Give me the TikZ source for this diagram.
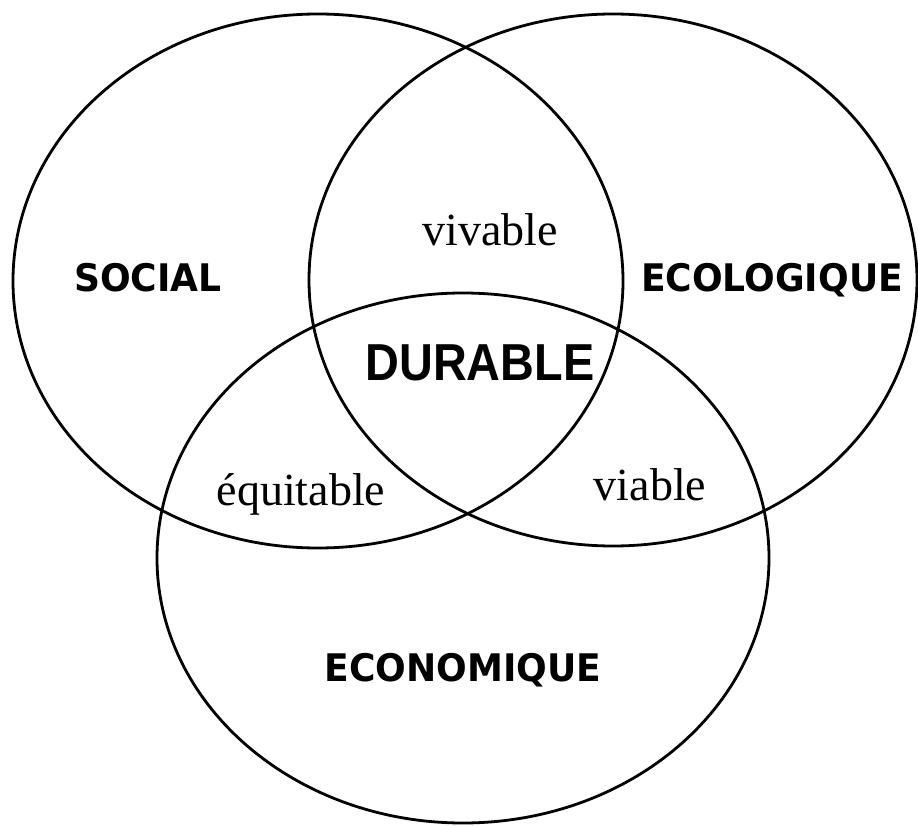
\documentclass[tikz,border=0pt]{standalone}
\usepackage{fontspec}
\setmainfont{Liberation Serif}
\newfontfamily\labfont{DejaVu Sans}
\newfontfamily\durfont{Liberation Sans}
\begin{document}
\begin{tikzpicture}[x=1pt,y=-1pt,
  circ/.style={line width=2.8pt,draw=black},
  biglab/.style={anchor=base,inner sep=0pt,font=\labfont\bfseries\fontsize{38}{44}\selectfont},
  midlab/.style={anchor=base,inner sep=0pt,font=\fontsize{46}{52}\selectfont},
  durlab/.style={anchor=base,inner sep=0pt,font=\durfont\bfseries\fontsize{52}{60}\selectfont}]
\useasboundingbox (0,0) rectangle (918,826);
\fill[white] (0,0) rectangle (918,826);
\draw[circ] (318,281) ellipse [x radius=305pt, y radius=267pt];
\draw[circ] (613,280) ellipse [x radius=304pt, y radius=266pt];
\draw[circ] (463,558) ellipse [x radius=306pt, y radius=265pt];
\node[biglab] (social) at (148,291) {\scalebox{0.95}[1]{SOCIAL}};
\node[biglab] (ecolo) at (772,291) {\scalebox{0.95}[1]{ECOLOGIQUE}};
\node[biglab] (econo) at (463,681) {\scalebox{0.95}[1]{ECONOMIQUE}};
\node[durlab] (durable) at (480,380) {\scalebox{0.9}[1]{DURABLE}};
\node[midlab] (vivable) at (490,246) {vivable};
\node[midlab] (equit) at (301,505) {équitable};
\node[midlab] (viable) at (650,500) {viable};
\end{tikzpicture}
\end{document}
